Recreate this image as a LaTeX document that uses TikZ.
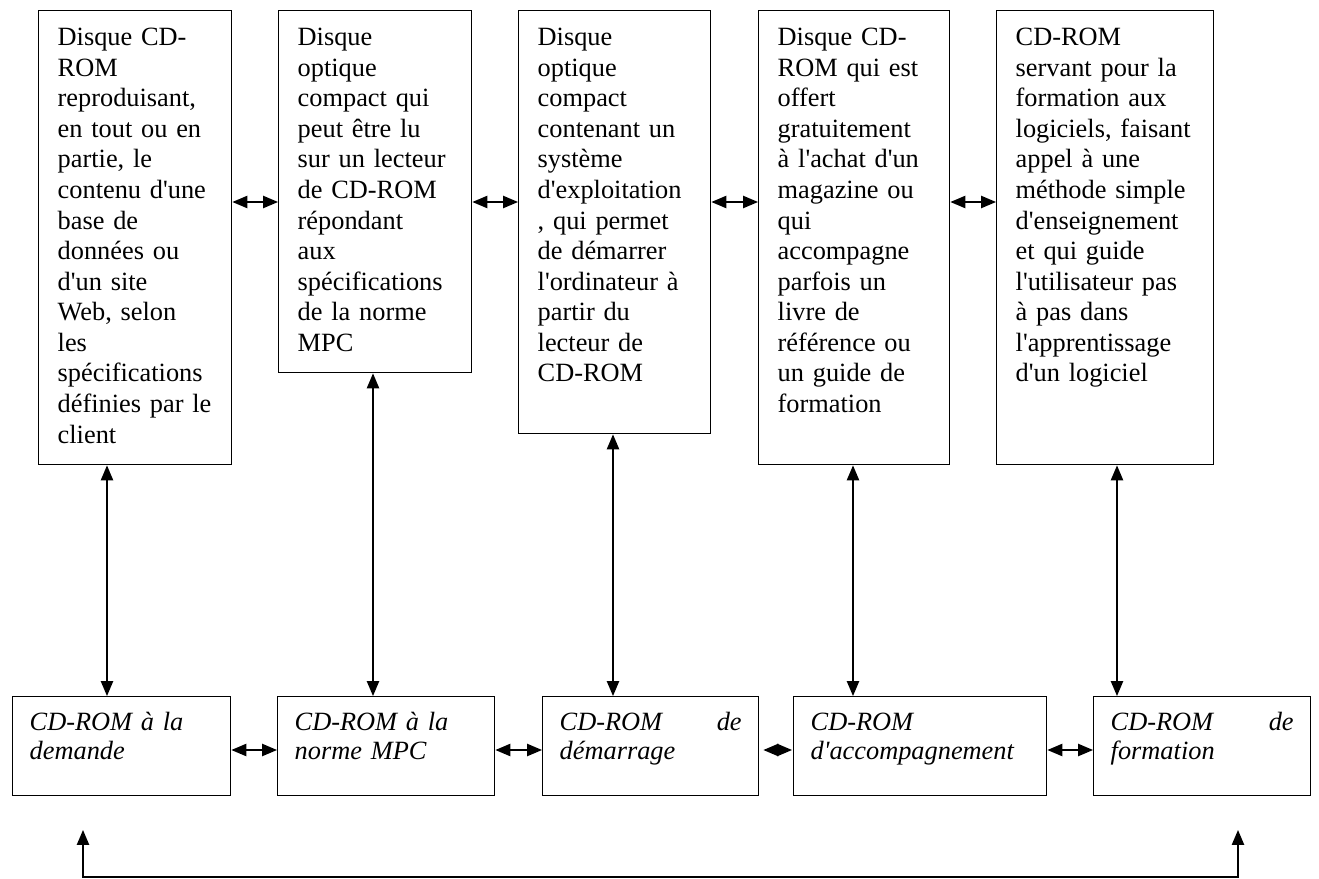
\documentclass[tikz,border=0pt]{standalone}
\usepackage{fontspec}
\setmainfont{Liberation Serif}[Ligatures=TeXOff]
\usetikzlibrary{arrows.meta, positioning}

\newlength{\px}
\setlength{\px}{0.02cm}

\tikzset{
    box/.style={draw, line width=0.8pt, anchor=north west, align=left, inner ysep=0pt},
    defbox/.style={box, inner xsep=19\px, text height=35\px, font=\fontsize{15}{17.4}\selectfont},
    catbox/.style={box, inner xsep=17\px, text height=34\px, text depth=65\px, font=\fontsize{15}{16.2}\selectfont\itshape},
    link/.style={line width=0.8pt, {Triangle[length=8.5pt,width=7pt]}-{Triangle[length=8.5pt,width=7pt]}}
}

\begin{document}
\begin{tikzpicture}[x=0.02cm, y=-0.02cm]
                        \useasboundingbox (0,0) rectangle (1319,879);
                        \node[defbox, text width=155\px, text depth=419\px] (d1) at (38,10) {Disque CD-\\ROM\\reproduisant,\\en tout ou en\\partie, le\\contenu d'une\\base de\\données ou\\d'un site\\Web, selon\\les\\spécifications\\définies par le\\client};
                        \node[defbox, text width=155\px, text depth=327\px] (d2) at (278,10) {Disque\\optique\\compact qui\\peut être lu\\sur un lecteur\\de CD-ROM\\répondant\\aux\\spécifications\\de la norme\\MPC};
                        \node[defbox, text width=154\px, text depth=388\px] (d3) at (518,10) {Disque\\optique\\compact\\contenant un\\système\\d'exploitation\\, qui permet\\de démarrer\\l'ordinateur à\\partir du\\lecteur de\\CD-ROM};
                        \node[defbox, text width=153\px, text depth=419\px] (d4) at (758,10) {Disque CD-\\ROM qui est\\offert\\gratuitement\\à l'achat d'un\\magazine ou\\qui\\accompagne\\parfois un\\livre de\\référence ou\\un guide de\\formation};
                        \node[defbox, text width=179\px, text depth=419\px] (d5) at (996,10) {CD-ROM\\servant pour la\\formation aux\\logiciels, faisant\\appel à une\\méthode simple\\d'enseignement\\et qui guide\\l'utilisateur pas\\à pas dans\\l'apprentissage\\d'un logiciel};
                        \node[catbox, text width=184\px] (c1) at (12,696) {CD-ROM à la\\demande};
                        \node[catbox, text width=183\px] (c2) at (277,696) {CD-ROM à la\\norme MPC};
                        \node[catbox, text width=182\px] (c3) at (542,696) {CD-ROM\hfill de\\démarrage};
                        \node[catbox, text width=219\px] (c4) at (793,696) {CD-ROM\\d'accompagnement};
                        \node[catbox, text width=183\px] (c5) at (1093,696) {CD-ROM\hfill de\\formation};
                        \coordinate (toprow) at (0,202);
                        \coordinate (botrow) at (0,750);
                        \coordinate (fbl) at (83,830);
                        \coordinate (fbr) at (1238,830);
                        \coordinate (fbbot) at (0,877);
                        \foreach \a/\b in {1/2, 2/3, 3/4, 4/5}
                            \draw[link] (d\a.east |- toprow) -- (d\b.west |- toprow);
                        \foreach \a/\b in {1/2, 2/3, 4/5}
                            \draw[link] (c\a.east |- botrow) -- (c\b.west |- botrow);
                        \draw[link, shorten <=4\px, shorten >=1\px] (c3.east |- botrow) -- (c4.west |- botrow);
                        \foreach \i/\x in {1/107, 2/373, 3/613, 4/853, 5/1117}
                        {
                            \coordinate (col\i) at (\x,0);
                            \draw[link] (d\i.south -| col\i) -- (c\i.north -| col\i);
                        }
                        \draw[link] (fbl) -- (fbl |- fbbot) -- (fbr |- fbbot) -- (fbr);
                    \end{tikzpicture}
\end{document}
